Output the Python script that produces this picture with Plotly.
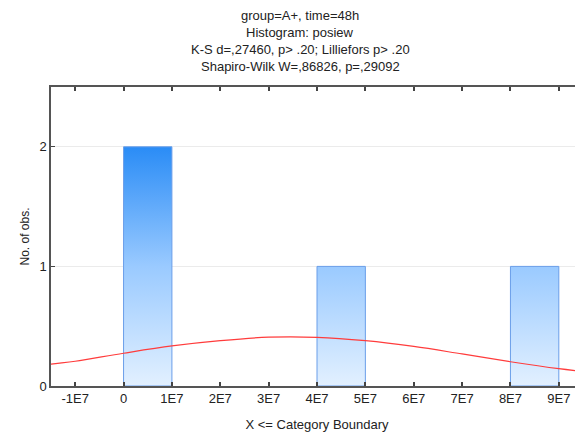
import plotly.graph_objects as go

# ---- data ----
bin_lower = [0, 1e7, 2e7, 3e7, 4e7, 5e7, 6e7, 7e7, 8e7]
bin_width = 1e7
counts = [2, 0, 0, 0, 1, 0, 0, 0, 1]

curve_x = [-2e7, -1.5e7, -1e7, 0, 1e7, 2e7, 3e7, 4e7, 5e7, 6e7, 7e7, 8e7, 9e7, 9.5e7, 1e8]
curve_y = [0.150, 0.182, 0.207, 0.274, 0.335, 0.379, 0.408, 0.407, 0.379, 0.331, 0.268, 0.203, 0.145, 0.122, 0.100]

x_tickvals = [-1e7, 0, 1e7, 2e7, 3e7, 4e7, 5e7, 6e7, 7e7, 8e7, 9e7]
x_ticktext = ["-1E7", "0", "1E7", "2E7", "3E7", "4E7", "5E7", "6E7", "7E7", "8E7", "9E7"]
y_tickvals = [0, 1, 2]

title_lines = [
    "group=A+, time=48h",
    "Histogram: posiew",
    "K-S d=,27460, p> .20; Lilliefors p> .20",
    "Shapiro-Wilk W=,86826, p=,29092",
]

FONT = "Liberation Sans, Arial, sans-serif"
# page body has an 8px offset; figure coordinates below are relative to it
W, H = 575, 429
ML, MT, MB, MR = 43, 79, 51, 0

fig = go.Figure()

for lo, c in zip(bin_lower, counts):
    if c <= 0:
        continue
    hi = lo + bin_width
    fig.add_trace(go.Scatter(
        x=[lo, lo, hi, hi, lo],
        y=[0, c, c, 0, 0],
        mode="lines",
        fill="toself",
        fillgradient=dict(
            type="vertical",
            start=0, stop=2,
            colorscale=[[0, "#e2f0ff"], [0.5, "#9acaff"], [1, "#2a8cf6"]],
        ),
        line=dict(color="#6a9ee9", width=1),
        showlegend=False,
        hoverinfo="skip",
    ))

fig.add_trace(go.Scatter(
    x=curve_x, y=curve_y, mode="lines",
    line=dict(color="#ff3c3c", width=1.2, shape="spline"),
    showlegend=False, hoverinfo="skip",
))

fig.update_xaxes(
    range=[-1.5e7, 9.5e7],
    tickvals=x_tickvals, ticktext=x_ticktext,
    ticks="inside", ticklen=4, tickcolor="#444", tickwidth=1.5,
    showline=True, linecolor="#555", linewidth=1.5, mirror="ticks",
    showgrid=False, zeroline=False, automargin=False,
    tickfont=dict(family=FONT, size=13, color="#222"),
    title=dict(text="X <= Category Boundary", font=dict(family=FONT, size=13, color="#222"), standoff=15),
)
fig.update_yaxes(
    range=[0, 2.5],
    tickvals=y_tickvals,
    ticks="inside", ticklen=4, tickcolor="#444", tickwidth=1,
    showline=True, linecolor="#555", linewidth=1.5, mirror=False,
    showgrid=True, gridcolor="#ebebeb", gridwidth=1, zeroline=False, automargin=False,
    tickfont=dict(family=FONT, size=13, color="#222"),
    title=dict(text="No. of obs.", font=dict(family=FONT, size=12, color="#222"), standoff=7),
)

plot_h = H - MT - MB
plot_w = W - ML - MR
title_y_px = [8, 24.5, 41, 58]
for txt, ypx in zip(title_lines, title_y_px):
    fig.add_annotation(
        text=txt, xref="paper", yref="paper",
        x=(292 - ML) / plot_w, y=(H - MB - ypx) / plot_h,
        xanchor="center", yanchor="middle", showarrow=False,
        font=dict(family=FONT, size=13, color="#222"),
    )

fig.update_layout(
    width=W, height=H,
    margin=dict(l=ML, r=MR, t=MT, b=MB),
    paper_bgcolor="white", plot_bgcolor="white",
)

fig.write_html("out.html")
